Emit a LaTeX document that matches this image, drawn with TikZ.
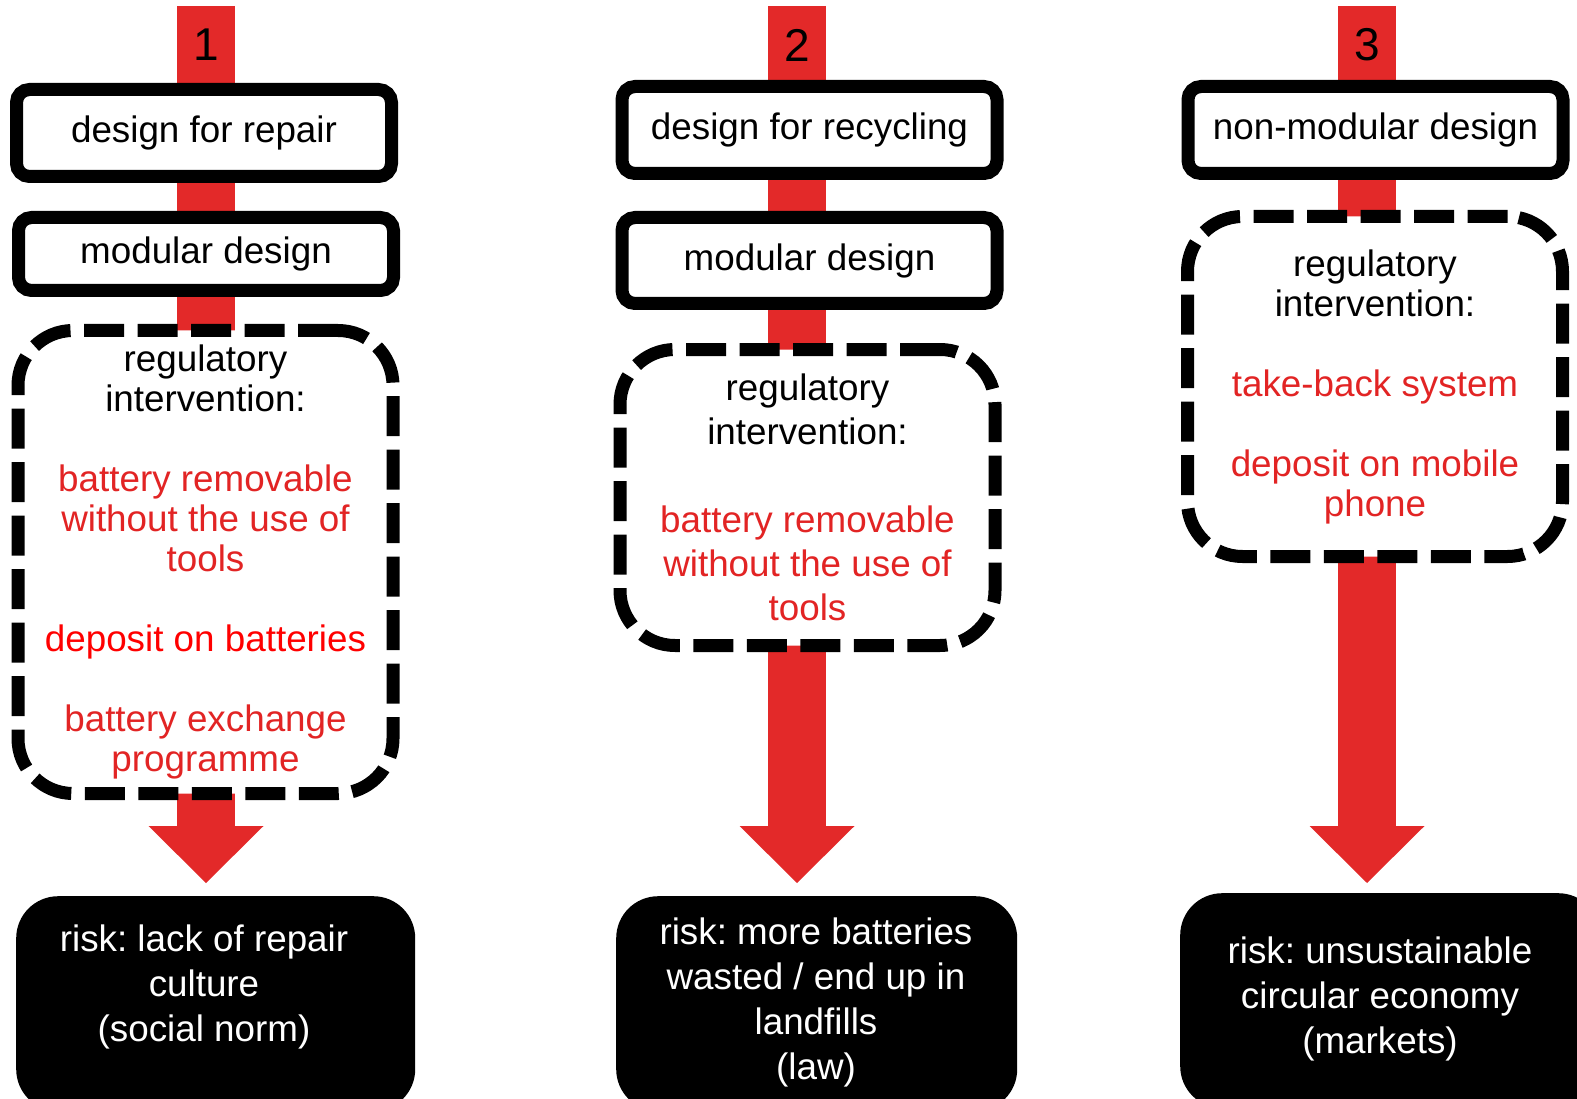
\documentclass[tikz,border=0pt]{standalone}
\usepackage{fontspec}
\setmainfont{Liberation Sans}
\usetikzlibrary{calc,arrows.meta}
\frenchspacing

\definecolor{barred}{RGB}{227,41,41}
\definecolor{textred}{RGB}{226,36,36}

\tikzset{
  design/.style={draw, line width=13pt, fill=white, rounded corners=13pt,
    minimum width=375pt, minimum height=87pt, inner sep=0pt,
    font=\fontsize{36.8pt}{40pt}\selectfont},
  regbox/.style={draw, line width=13pt, dash pattern=on 40pt off 13.5pt,
    fill=white, rounded corners=55pt, minimum width=375pt, inner sep=0pt,
    align=center, font=\fontsize{36.8pt}{40pt}\selectfont},
  riskbox/.style={fill=black, rounded corners=42pt, inner sep=0pt,
    minimum height=215pt, anchor=north west},
  risktext/.style={text=white, align=center, inner sep=0pt,
    font=\fontsize{36.8pt}{45pt}\selectfont},
  redbar/.style={draw=barred, line width=58pt,
    -{Triangle[width=115pt,length=57pt,line width=0pt]}},
  numlabel/.style={inner sep=0pt, font=\fontsize{46pt}{50pt}\selectfont}
}

\begin{document}
\begin{tikzpicture}[x=1pt, y=-1pt]
\useasboundingbox (0,0) rectangle (1577,1099);

\coordinate (top1) at (206,6);
\coordinate (top2) at (797,6);
\coordinate (top3) at (1367,6);

% risks at the bottom
\node[riskbox, minimum width=399pt] (risk1) at (16,896) {};
\node[riskbox, minimum width=401pt] (risk2) at (616,896) {};
\node[riskbox, minimum width=420pt] (risk3) at (1180,893) {};

\foreach \i / \gap in {1/13pt, 2/13pt, 3/10pt}
	\draw[redbar, shorten >=\gap] (top\i) -- (top\i |- risk\i.north);

% column 1
\node[design] (repair) at (204,133) {design for repair};
\node[design, minimum height=73pt] (modular1) at (206,254) {modular design};
\node[regbox, minimum height=463pt] (reg1) at (205.5,562) {regulatory\\intervention:\\[40pt]
	\textcolor{textred}{battery removable}\\\textcolor{textred}{without the use of}\\
	\textcolor{textred}{tools}\\[40pt]
	\textcolor{red}{deposit on batteries}\\[40pt]
	\textcolor{textred}{battery exchange}\\\textcolor{textred}{programme}};

% column 2
\node[design] (recycling) at (809.5,130) {design for recycling};
\node[design, minimum height=86pt] (modular2) at (809.5,260.5) {modular design};
\node[regbox, minimum height=296pt,
	font=\fontsize{36.8pt}{44pt}\selectfont] (reg2) at (807.5,497.5) {regulatory\\intervention:\\[44pt]
	\textcolor{textred}{battery removable}\\\textcolor{textred}{without the use of}\\
	\textcolor{textred}{tools}};

% column 3
\node[design] (nonmodular) at (1375.5,130) {non-modular design};
\node[regbox, minimum height=340pt] (reg3) at (1375,386.5) {regulatory\\intervention:\\[40pt]
	\textcolor{textred}{take-back system}\\[40pt]
	\textcolor{textred}{deposit on mobile}\\\textcolor{textred}{phone}};

\foreach \i in {1,2,3}
	\node[numlabel] (num\i) at ($(top\i)+(0,39)$) {\i};

\node[risktext] (risktext1) at (204,986.5) {risk: lack of repair\\culture\\(social norm)};
\node[risktext] (risktext2) at (816,1002) {risk: more batteries\\wasted / end up in\\landfills\\(law)};
\node[risktext] (risktext3) at (1380,999) {risk: unsustainable\\circular economy\\(markets)};
\end{tikzpicture}
\end{document}
